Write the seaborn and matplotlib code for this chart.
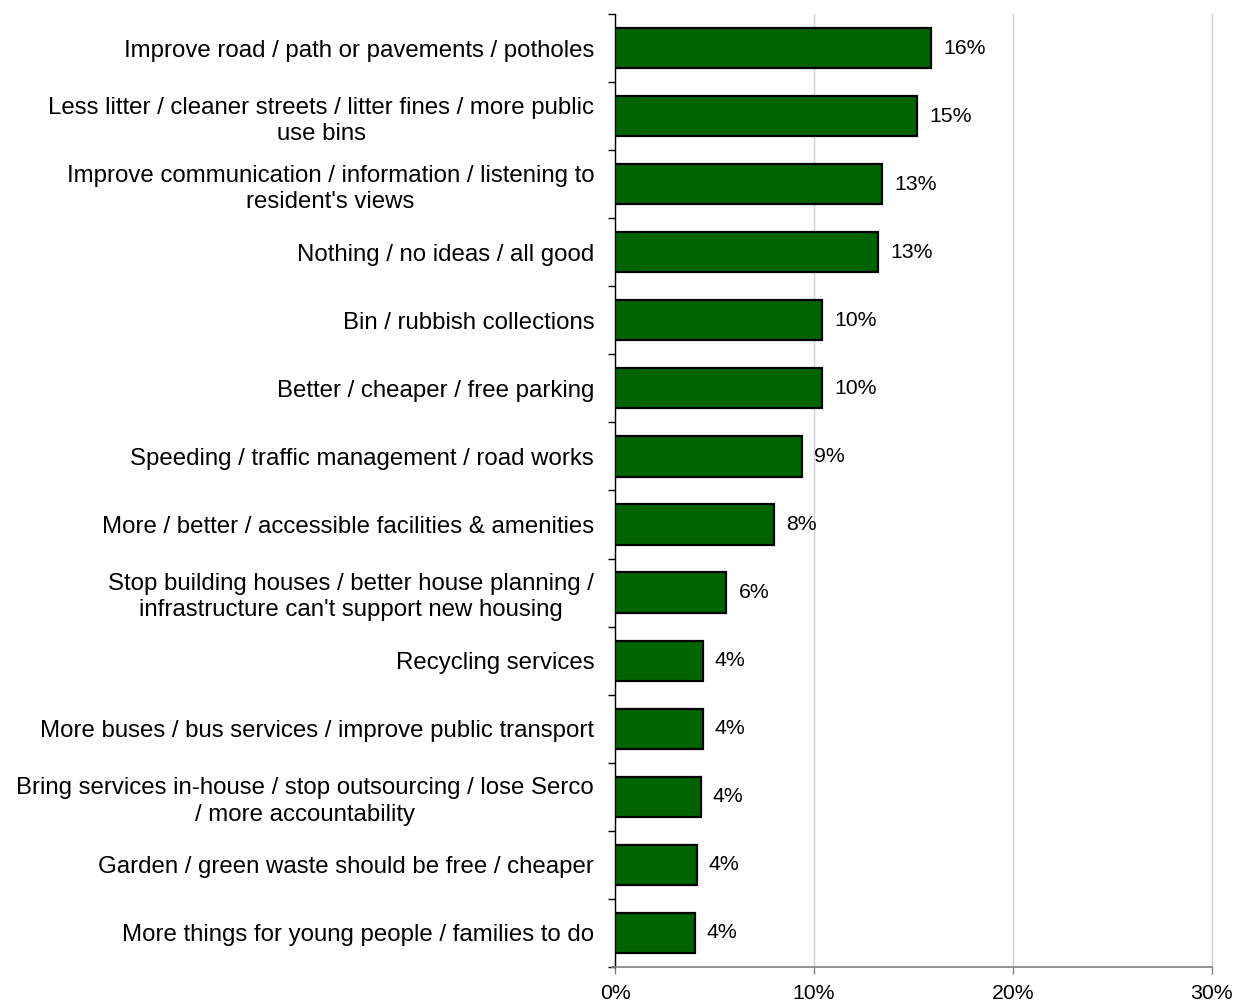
import matplotlib
matplotlib.use("Agg")
import matplotlib.pyplot as plt
import seaborn as sns
import pandas as pd
import numpy as np
from matplotlib.ticker import FixedLocator

categories = [
    "Improve road / path or pavements / potholes",
    "Less litter / cleaner streets / litter fines / more public\nuse bins",
    "Improve communication / information / listening to\nresident's views",
    "Nothing / no ideas / all good",
    "Bin / rubbish collections",
    "Better / cheaper / free parking",
    "Speeding / traffic management / road works",
    "More / better / accessible facilities & amenities",
    "Stop building houses / better house planning /\ninfrastructure can't support new housing",
    "Recycling services",
    "More buses / bus services / improve public transport",
    "Bring services in-house / stop outsourcing / lose Serco\n/ more accountability",
    "Garden / green waste should be free / cheaper",
    "More things for young people / families to do",
]
values = [15.9, 15.2, 13.4, 13.2, 10.4, 10.4, 9.4, 8.0, 5.6, 4.4, 4.4, 4.3, 4.1, 4.0]
x_ticks = [0, 10, 20, 30]
x_tick_labels = ["0%", "10%", "20%", "30%"]

df = pd.DataFrame({"category": categories, "value": values})

sns.set_theme(style="white")
plt.rcParams["font.family"] = ["Liberation Sans", "DejaVu Sans"]

fig = plt.figure(figsize=(12.34, 10.02), dpi=100)
ax = fig.add_axes([0.4984, 0.035, 0.4836, 0.951])

sns.barplot(data=df, y="category", x="value", orient="h", color="#006400",
            saturation=1, width=0.59, edgecolor="black", linewidth=1.6, ax=ax,
            zorder=3)

for i, v in enumerate(values):
    ax.text(v + 0.62, i, f"{v:.0f}%", va="center", ha="left", fontsize=15.3,
            color="black")

ax.set_xlim(0, 30)
ax.set_ylim(13.5, -0.5)
ax.set_xlabel("")
ax.set_ylabel("")

ax.xaxis.set_major_locator(FixedLocator(x_ticks))
ax.set_xticklabels(x_tick_labels, fontsize=15.3)
ax.grid(axis="x", color="#d0d0d0", linewidth=1, zorder=0)
ax.grid(axis="y", visible=False)
for gl in ax.get_xgridlines():
    gl.set_clip_on(False)

ax.set_yticks(range(len(categories)))
ax.set_yticklabels(categories, fontsize=17.3)
for lbl in ax.get_yticklabels():
    lbl.set_multialignment("center")
    lbl.set_linespacing(1.25)
ax.yaxis.set_minor_locator(FixedLocator(np.arange(-0.5, len(categories), 1.0)))
ax.tick_params(axis="y", which="major", length=0, pad=15, colors="black")
ax.tick_params(axis="y", which="minor", length=5, width=1, color="black", left=True)
ax.tick_params(axis="x", which="major", length=5, width=1, color="#808080",
               bottom=True, pad=7, labelcolor="black")

for side in ["top", "right"]:
    ax.spines[side].set_visible(False)
ax.spines["left"].set_color("black")
ax.spines["left"].set_linewidth(1)
ax.spines["bottom"].set_color("#808080")
ax.spines["bottom"].set_linewidth(1.2)
ax.spines["bottom"].set_bounds(-0.15, 30)

fig.savefig("out.png", dpi=100, facecolor="white")
